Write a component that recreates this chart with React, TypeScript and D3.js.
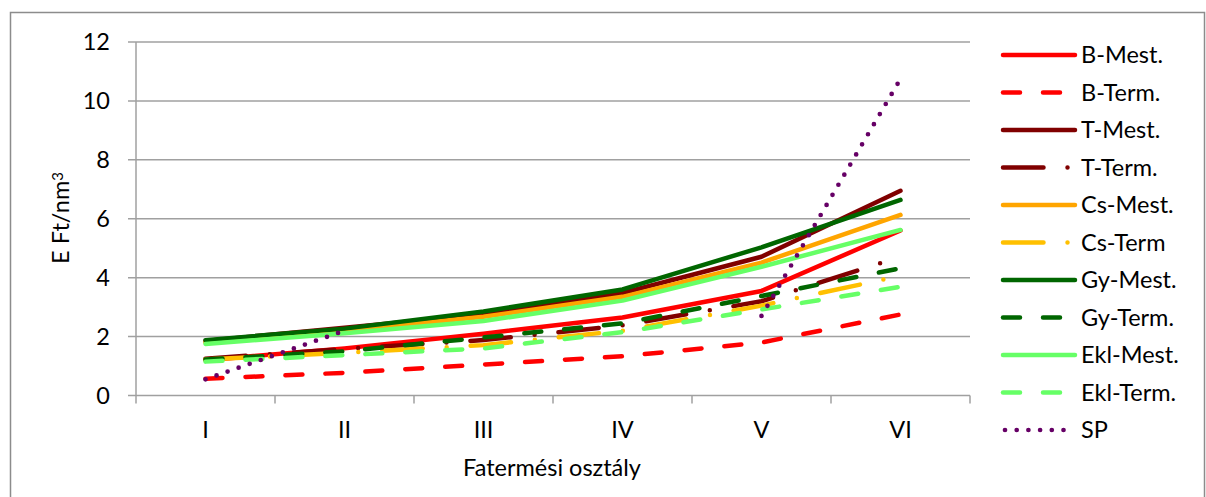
import React from "react";
import * as d3 from "d3";

// Yield-class categories and per-class values (E Ft / nm³)
const classes = ["I", "II", "III", "IV", "V", "VI"];
const yTicks = [0, 2, 4, 6, 8, 10, 12];

const bMest = [1.2, 1.6, 2.1, 2.65, 3.55, 5.6];
const bTerm = [0.57, 0.77, 1.05, 1.33, 1.8, 2.75];
const tMest = [1.85, 2.3, 2.75, 3.48, 4.71, 6.95];
const tTerm = [1.25, 1.58, 1.88, 2.38, 3.2, 4.71];
const csMest = [1.8, 2.2, 2.67, 3.35, 4.51, 6.13];
const csTerm = [1.22, 1.45, 1.71, 2.2, 3.05, 4.06];
const gyMest = [1.88, 2.27, 2.85, 3.6, 5.03, 6.64];
const gyTerm = [1.22, 1.5, 1.97, 2.45, 3.38, 4.32];
const eklMest = [1.75, 2.11, 2.53, 3.22, 4.37, 5.62];
const eklTerm = [1.15, 1.37, 1.6, 2.15, 2.92, 3.69];
const sp: (number | null)[] = [0.55, 2.2, null, null, 2.7, 10.75];

const W = 1206;
const H = 497;
const FONT = "Lato, 'Open Sans', sans-serif";
const FS = 23.5;

const DASH = "17 23";
const LONG_DASH_DOT = "40.5 24 0 24";
const DOT = "0 11.7";

type Series = {
  name: string;
  values: (number | null)[];
  color: string;
  dash?: string;
};

const series: Series[] = [
  { name: "B-Mest.", values: bMest, color: "#FF0000" },
  { name: "B-Term.", values: bTerm, color: "#FF0000", dash: DASH },
  { name: "T-Mest.", values: tMest, color: "#800000" },
  { name: "T-Term.", values: tTerm, color: "#800000", dash: LONG_DASH_DOT },
  { name: "Cs-Mest.", values: csMest, color: "#FFA500" },
  { name: "Cs-Term", values: csTerm, color: "#FFC000", dash: LONG_DASH_DOT },
  { name: "Gy-Mest.", values: gyMest, color: "#006600" },
  { name: "Gy-Term.", values: gyTerm, color: "#006600", dash: DASH },
  { name: "Ekl-Mest.", values: eklMest, color: "#66FF66" },
  { name: "Ekl-Term.", values: eklTerm, color: "#66FF66", dash: DASH },
  { name: "SP", values: sp, color: "#660066", dash: DOT },
];

export default function App() {
  const left = 136;
  const right = 970;
  const top = 42;
  const bottom = 395.5;

  const x = d3.scaleBand<string>().domain(classes).range([left, right]);
  const y = d3.scaleLinear().domain([0, 12]).range([bottom, top]);

  const line = d3
    .line<number | null>()
    .defined((d) => d != null)
    .x((_, i) => (x(classes[i]) as number) + x.bandwidth() / 2)
    .y((d) => y(d as number));

  const gridColor = "#A0A0A0";
  const boundaries = [...classes.map((c) => x(c) as number), right];

  const legendX1 = 1003;
  const legendX2 = 1075;
  const legendY0 = 55;
  const legendStep = 37.5;

  return (
    <svg
      width={W}
      height={H}
      style={{ position: "absolute", left: 0, top: 0, background: "#fff" }}
      fontFamily={FONT}
    >
      <rect x={10.5} y={12.5} width={1194} height={490} fill="#fff" stroke="#8C8C8C" strokeWidth={1.5} />

      {/* horizontal gridlines and y ticks */}
      {yTicks.map((t) => (
        <g key={t}>
          <line x1={128} x2={right} y1={y(t)} y2={y(t)} stroke={gridColor} strokeWidth={1.5} />
          <text x={110} y={y(t)} dy="0.36em" textAnchor="end" fontSize={FS} fill="#000">
            {t}
          </text>
        </g>
      ))}

      {/* y axis line */}
      <line x1={left} x2={left} y1={top} y2={bottom} stroke={gridColor} strokeWidth={1.5} />

      {/* x tick marks */}
      {boundaries.map((b, i) => (
        <line key={i} x1={b} x2={b} y1={bottom} y2={bottom + 8} stroke={gridColor} strokeWidth={1.5} />
      ))}

      {/* x tick labels */}
      {classes.map((c) => (
        <text
          key={c}
          x={(x(c) as number) + x.bandwidth() / 2}
          y={430}
          dy="0.36em"
          textAnchor="middle"
          fontSize={FS}
          fill="#000"
        >
          {c}
        </text>
      ))}

      {/* axis titles */}
      <text x={552} y={468} dy="0.36em" textAnchor="middle" fontSize={FS} fill="#000">
        Fatermési osztály
      </text>
      <text
        transform="translate(61,218) rotate(-90)"
        textAnchor="middle"
        fontSize={FS}
        fill="#000"
        dy="0.36em"
      >
        E Ft/nm
        <tspan dy="-0.45em" fontSize={15}>
          3
        </tspan>
      </text>

      {/* series lines */}
      {series.map((s) => (
        <path
          key={s.name}
          d={line(s.values) || ""}
          fill="none"
          stroke={s.color}
          strokeWidth={s.dash === DOT ? 4.7 : 4.5}
          strokeDasharray={s.dash}
          strokeLinecap="round"
          strokeLinejoin="round"
        />
      ))}

      {/* legend */}
      {series.map((s, i) => {
        const ly = legendY0 + i * legendStep;
        return (
          <g key={s.name}>
            <line
              x1={s.dash === DOT ? legendX1 + 2 : legendX1}
              x2={legendX2}
              y1={ly}
              y2={ly}
              stroke={s.color}
              strokeWidth={s.dash === DOT ? 4.7 : 4.5}
              strokeDasharray={s.dash}
              strokeLinecap="round"
            />
            <text x={1081} y={ly} dy="0.36em" fontSize={FS} fill="#000">
              {s.name}
            </text>
          </g>
        );
      })}
    </svg>
  );
}
